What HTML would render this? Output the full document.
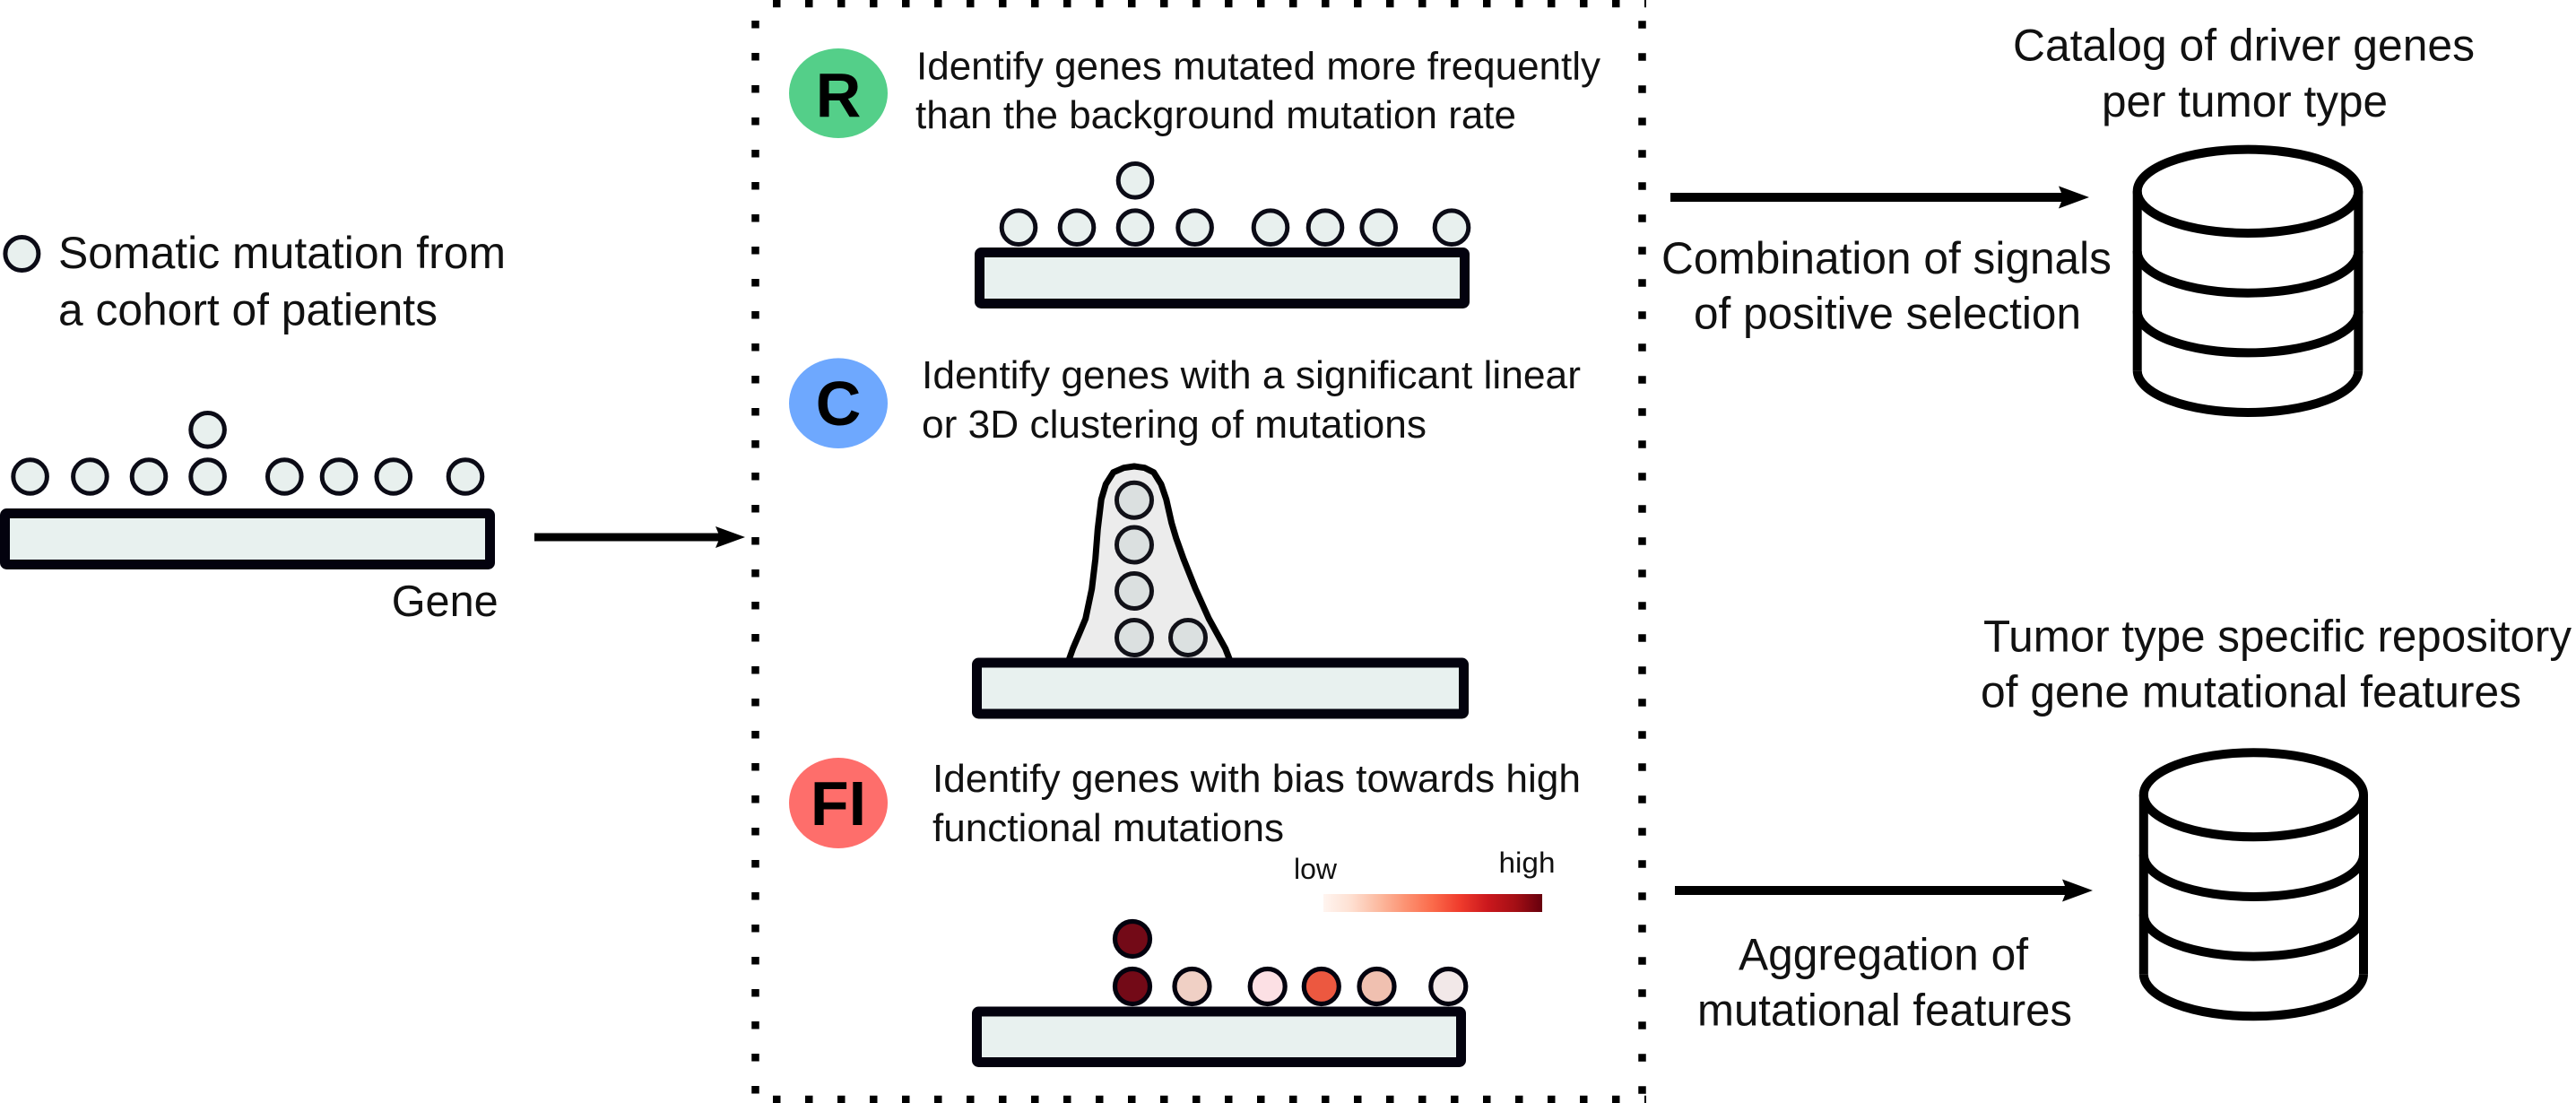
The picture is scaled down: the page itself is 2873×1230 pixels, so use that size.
<!DOCTYPE html>
<html><head><meta charset="utf-8"><style>
html,body{margin:0;padding:0;background:#fff;}
svg{display:block;}
text{font-family:"Liberation Sans",Arial,sans-serif;fill:#111;}
</style></head><body>
<svg width="2873" height="1230" viewBox="0 0 2873 1230" xmlns="http://www.w3.org/2000/svg">
<defs>
<linearGradient id="reds" x1="0" y1="0" x2="1" y2="0">
<stop offset="0" stop-color="#fff5f0"/>
<stop offset="0.125" stop-color="#fee0d2"/>
<stop offset="0.25" stop-color="#fcbba1"/>
<stop offset="0.375" stop-color="#fc9272"/>
<stop offset="0.5" stop-color="#fb6a4a"/>
<stop offset="0.625" stop-color="#ef3b2c"/>
<stop offset="0.75" stop-color="#cb181d"/>
<stop offset="0.875" stop-color="#a50f15"/>
<stop offset="1" stop-color="#67000d"/>
</linearGradient>
</defs>

<!-- dotted box -->
<g stroke="#000" stroke-width="8.5" fill="none">
<line x1="862" y1="4" x2="1836" y2="4" stroke-dasharray="8.5 27.5"/>
<line x1="862" y1="1226" x2="1836" y2="1226" stroke-dasharray="8.5 27.5"/>
<line x1="842.5" y1="0" x2="842.5" y2="1230" stroke-dasharray="8.5 27.5" stroke-dashoffset="-23"/>
<line x1="1831.5" y1="0" x2="1831.5" y2="1230" stroke-dasharray="8.5 27.5" stroke-dashoffset="-23.25"/>
</g>

<!-- LEFT -->
<circle cx="24.4" cy="283" r="18.5" fill="#e8f0ee" stroke="#0b0b16" stroke-width="5"/>
<text x="65" y="299" font-size="50" textLength="499" lengthAdjust="spacingAndGlyphs">Somatic mutation from</text>
<text x="65" y="362.5" font-size="50" textLength="423" lengthAdjust="spacingAndGlyphs">a cohort of patients</text>
<g fill="#e8f0ee" stroke="#0b0b16" stroke-width="5">
<circle cx="231.6" cy="479.3" r="18.8"/>
<circle cx="33.6" cy="531.5" r="18.8"/>
<circle cx="100.4" cy="531.5" r="18.8"/>
<circle cx="166" cy="531.5" r="18.8"/>
<circle cx="231.6" cy="531.5" r="18.8"/>
<circle cx="317.3" cy="531.5" r="18.8"/>
<circle cx="378" cy="531.5" r="18.8"/>
<circle cx="438.8" cy="531.5" r="18.8"/>
<circle cx="519" cy="531.5" r="18.8"/>
</g>
<rect x="5.5" y="572.5" width="541" height="57" rx="2" fill="#e8f1ef" stroke="#03020e" stroke-width="11"/>
<text x="436.7" y="687" font-size="49" textLength="119" lengthAdjust="spacingAndGlyphs">Gene</text>
<line x1="596" y1="599" x2="805" y2="599" stroke="#000" stroke-width="9"/>
<polygon points="831,599 798,587 803,599 798,611" fill="#000"/>

<!-- R section -->
<ellipse cx="935" cy="104" rx="55" ry="50" fill="#54cf89"/>
<text x="935" y="130" font-size="70" font-weight="bold" text-anchor="middle" style="fill:#000">R</text>
<text x="1022" y="88.3" font-size="44" textLength="763" lengthAdjust="spacingAndGlyphs">Identify genes mutated more frequently</text>
<text x="1021" y="143" font-size="44" textLength="670" lengthAdjust="spacingAndGlyphs">than the background mutation rate</text>
<g fill="#e8f0ee" stroke="#0b0b16" stroke-width="5">
<circle cx="1266" cy="201.3" r="18.8"/>
<circle cx="1136" cy="253.7" r="18.8"/>
<circle cx="1201" cy="253.7" r="18.8"/>
<circle cx="1266" cy="253.7" r="18.8"/>
<circle cx="1332.6" cy="253.7" r="18.8"/>
<circle cx="1417" cy="253.7" r="18.8"/>
<circle cx="1478" cy="253.7" r="18.8"/>
<circle cx="1537.7" cy="253.7" r="18.8"/>
<circle cx="1619" cy="253.7" r="18.8"/>
</g>
<rect x="1092.5" y="281.5" width="541" height="57" rx="2" fill="#e8f1ef" stroke="#03020e" stroke-width="11"/>

<!-- C section -->
<ellipse cx="935" cy="449.7" rx="55" ry="50.3" fill="#6ea8fe"/>
<text x="935" y="474" font-size="70" font-weight="bold" text-anchor="middle" style="fill:#000">C</text>
<text x="1028" y="433" font-size="44" textLength="735" lengthAdjust="spacingAndGlyphs">Identify genes with a significant linear</text>
<text x="1028" y="488" font-size="44" textLength="563" lengthAdjust="spacingAndGlyphs">or 3D clustering of mutations</text>
<path d="M1191.7,737 L1196.7,723 L1204,706 L1210.7,690 L1217.7,656.7 L1221.7,623.3 L1224.3,590 L1228.3,556.7 L1233.3,540 L1241.7,526.7 L1253.3,521.7 L1265,520 L1276.7,521.7 L1286.7,526.7 L1295,540 L1300.7,556.7 L1306.7,583.3 L1311.7,600 L1320,623.3 L1333.3,656.7 L1348.3,690 L1366.7,723.3 L1372,737 Z" fill="#ececec" stroke="#000" stroke-width="7" stroke-linejoin="round"/>
<g fill="#dbe0e0" stroke="#111118" stroke-width="5">
<circle cx="1265" cy="557.7" r="19.5"/>
<circle cx="1265" cy="607.5" r="19.5"/>
<circle cx="1265" cy="659" r="19.5"/>
<circle cx="1265" cy="711" r="19.5"/>
<circle cx="1325" cy="711" r="19.5"/>
</g>
<rect x="1089.5" y="739" width="543" height="57" rx="2" fill="#e8f1ef" stroke="#03020e" stroke-width="11"/>

<!-- FI section -->
<ellipse cx="935" cy="895.5" rx="55" ry="50.5" fill="#fe6e6b"/>
<text x="935" y="920" font-size="70" font-weight="bold" text-anchor="middle" style="fill:#000">FI</text>
<text x="1040" y="883" font-size="44" textLength="723" lengthAdjust="spacingAndGlyphs">Identify genes with bias towards high</text>
<text x="1040" y="938" font-size="44" textLength="392" lengthAdjust="spacingAndGlyphs">functional mutations</text>
<text x="1443" y="980" font-size="32" textLength="48" lengthAdjust="spacingAndGlyphs">low</text>
<text x="1671.5" y="973" font-size="32" textLength="63" lengthAdjust="spacingAndGlyphs">high</text>
<rect x="1476" y="997" width="244" height="20" fill="url(#reds)"/>
<g stroke="#03020e" stroke-width="5.2">
<circle cx="1263" cy="1047" r="19.5" fill="#730a17"/>
<circle cx="1263" cy="1100" r="19.5" fill="#730a17"/>
<circle cx="1329.5" cy="1100" r="19.5" fill="#f0d0c5"/>
<circle cx="1413.7" cy="1100" r="19.5" fill="#fce0e4"/>
<circle cx="1473.8" cy="1100" r="19.5" fill="#ec5840"/>
<circle cx="1535.5" cy="1100" r="19.5" fill="#f0c0b0"/>
<circle cx="1615.3" cy="1100" r="19.5" fill="#f2e8e8"/>
</g>
<rect x="1089.5" y="1128" width="540" height="56.5" rx="2" fill="#e8f1ef" stroke="#03020e" stroke-width="11"/>

<!-- RIGHT top -->
<text x="2245" y="67.5" font-size="50" textLength="515" lengthAdjust="spacingAndGlyphs">Catalog of driver genes</text>
<text x="2344" y="130" font-size="50" textLength="319" lengthAdjust="spacingAndGlyphs">per tumor type</text>
<line x1="1863" y1="220" x2="2302" y2="220" stroke="#000" stroke-width="10"/>
<polygon points="2330,220 2296,207.5 2301,220 2296,232.5" fill="#000"/>
<text x="1853" y="305" font-size="50" textLength="502" lengthAdjust="spacingAndGlyphs">Combination of signals</text>
<text x="1889" y="366.7" font-size="50" textLength="432" lengthAdjust="spacingAndGlyphs">of positive selection</text>
<g fill="none" stroke="#000" stroke-width="10">
<ellipse cx="2507" cy="213.3" rx="123.3" ry="46.7"/>
<path d="M2383.7,280 A123.3,46.7 0 0 0 2630.3,280"/>
<path d="M2383.7,346.7 A123.3,46.7 0 0 0 2630.3,346.7"/>
<path d="M2383.7,413.3 A123.3,46.7 0 0 0 2630.3,413.3"/>
<line x1="2383.7" y1="213.3" x2="2383.7" y2="413.3"/>
<line x1="2630.3" y1="213.3" x2="2630.3" y2="413.3"/>
</g>

<!-- RIGHT bottom -->
<text x="2212" y="726.7" font-size="50" textLength="656" lengthAdjust="spacingAndGlyphs">Tumor type specific repository</text>
<text x="2209" y="788.3" font-size="50" textLength="603" lengthAdjust="spacingAndGlyphs">of gene mutational features</text>
<line x1="1868" y1="993" x2="2306" y2="993" stroke="#000" stroke-width="10"/>
<polygon points="2334,993 2300,980.5 2305,993 2300,1005.5" fill="#000"/>
<text x="1939" y="1081.7" font-size="50" textLength="323" lengthAdjust="spacingAndGlyphs">Aggregation of</text>
<text x="1893" y="1143.3" font-size="50" textLength="418" lengthAdjust="spacingAndGlyphs">mutational features</text>
<g fill="none" stroke="#000" stroke-width="10">
<ellipse cx="2513.4" cy="886.3" rx="122.6" ry="47"/>
<path d="M2390.8,953 A122.6,47 0 0 0 2636,953"/>
<path d="M2390.8,1019.6 A122.6,47 0 0 0 2636,1019.6"/>
<path d="M2390.8,1086.3 A122.6,47 0 0 0 2636,1086.3"/>
<line x1="2390.8" y1="886.3" x2="2390.8" y2="1086.3"/>
<line x1="2636" y1="886.3" x2="2636" y2="1086.3"/>
</g>
</svg>
</body></html>
